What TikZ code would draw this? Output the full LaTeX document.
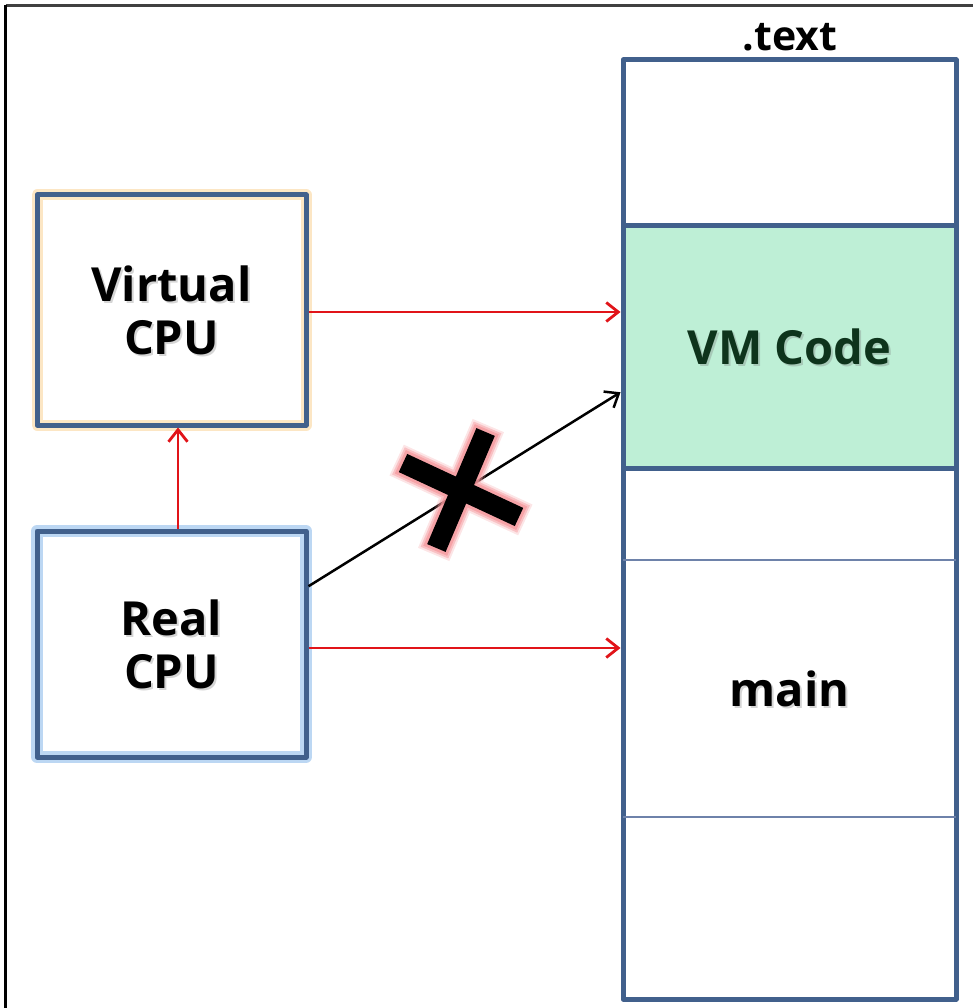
\documentclass[tikz,border=0pt]{standalone}
\usepackage{fontspec}
\setmainfont{Open Sans}
\usetikzlibrary{arrows.meta,calc}

\definecolor{boxblue}{RGB}{65,96,140}
\definecolor{vmgreen}{RGB}{190,239,214}
\definecolor{glowor}{RGB}{252,230,196}
\definecolor{glowbl}{RGB}{188,215,243}
\definecolor{linkred}{RGB}{225,20,25}
\definecolor{codegreen}{RGB}{14,52,28}
\definecolor{xglow}{RGB}{245,150,155}
\definecolor{thinline}{RGB}{110,130,170}

% text with a soft drop shadow: name, position, extra style, text
\newcommand\shadowlabel[4]{%
  \node[lbl,#3,text=black!55,opacity=0.3] at ($(#2)+(2,2)$) {#4};
  \node[lbl,#3] (#1) at (#2) {#4};}

\begin{document}
\begin{tikzpicture}[x=1pt,y=-1pt,
  lbl/.style={font=\fontsize{47}{53}\selectfont\bfseries, align=center, inner sep=0pt},
  cpubox/.style={draw=boxblue, line width=5pt, line join=round,
    minimum width=269pt, minimum height=#1, inner sep=0pt, outer sep=2.5pt},
  seg/.style={minimum width=333pt, minimum height=#1, inner sep=0pt, outer sep=0pt},
  colborder/.style={draw=boxblue, line width=5pt, line join=round},
  thinsep/.style={draw=thinline, line width=1.3pt},
  redarrow/.style={draw=linkred, line width=2.8pt,
    -{Straight Barb[length=12pt,width=19pt]}},
  blackarrow/.style={draw=black, line width=2.5pt,
    -{Straight Barb[length=12pt,width=19pt]}},
]
\useasboundingbox (0,0) rectangle (973,1008);

% frame
\draw[black!75, line width=2.2pt] (5.5,5.5) -- (973,5.5);
\draw[black, line width=2.2pt] (5.5,5.5) -- (5.5,1008);

% CPU boxes with their glow
\node[cpubox=230pt, preaction={draw=glowor, line width=11pt}] (vcpu) at (171.5,310) {};
\node[cpubox=226pt, preaction={draw=glowbl, line width=12pt}] (rcpu) at (171.5,644) {};
\shadowlabel{vcputext}{vcpu}{}{Virtual\\CPU}
\shadowlabel{rcputext}{rcpu}{}{Real\\CPU}

% .text section
\node[seg=166pt] (s1) at (789.5,143) {};
\node[seg=242pt, fill=vmgreen] (vm) at (789.5,347) {};
\node[seg=92pt] (s3) at (789.5,514) {};
\node[seg=257pt] (mainseg) at (789.5,688.5) {};
\node[seg=182pt] (s5) at (789.5,908) {};
\draw[colborder] (s1.north west) rectangle (s5.south east);
\draw[colborder] (s1.south west) -- (s1.south east);
\draw[colborder] (vm.south west) -- (vm.south east);
\draw[thinsep] (s3.south west) -- (s3.south east);
\draw[thinsep] (mainseg.south west) -- (mainseg.south east);

\shadowlabel{vmtext}{vm}{text=codegreen}{VM Code}
\shadowlabel{maintext}{mainseg}{}{main}
\node[lbl, font=\fontsize{41}{48}\selectfont\bfseries] (sectlabel) at (790,37) {.text};

% connectors
\coordinate (vmleft) at ([xshift=-2.5pt]vm.west |- vcpu.east);
\draw[redarrow] ([yshift=-2pt]vcpu.east) -- ([yshift=-2pt]vmleft);
\draw[redarrow] ([xshift=6.5pt]rcpu.north) -- ([xshift=6.5pt]vcpu.south);
\coordinate (mainleft) at ([xshift=-2.5pt]mainseg.west |- rcpu.east);
\draw[redarrow] ([yshift=-4pt]rcpu.east) -- ([yshift=-4pt]mainleft);
\coordinate (rcpuup) at ($(rcpu.north east)!0.25!(rcpu.south east)$);
\coordinate (vmlow) at ($([xshift=-2.5pt]vm.north west)!0.687!([xshift=-2.5pt]vm.south west)$);
\draw[blackarrow] (rcpuup) -- (vmlow);

% the cross over the forbidden path
\coordinate (xa1) at (403,463);
\coordinate (xa2) at (519,517);
\coordinate (xb1) at (485.6,432);
\coordinate (xb2) at (436.4,548);
\foreach \w/\o/\e in {34/0.25/7, 30/0.45/5, 26/0.7/3}{
  \draw[xglow, opacity=\o, line width=\w pt]
    ($(xa1)!-\e pt!(xa2)$) -- ($(xa2)!-\e pt!(xa1)$)
    ($(xb1)!-\e pt!(xb2)$) -- ($(xb2)!-\e pt!(xb1)$);
}
\draw[black, line width=20pt] (xa1) -- (xa2) (xb1) -- (xb2);
\end{tikzpicture}
\end{document}
